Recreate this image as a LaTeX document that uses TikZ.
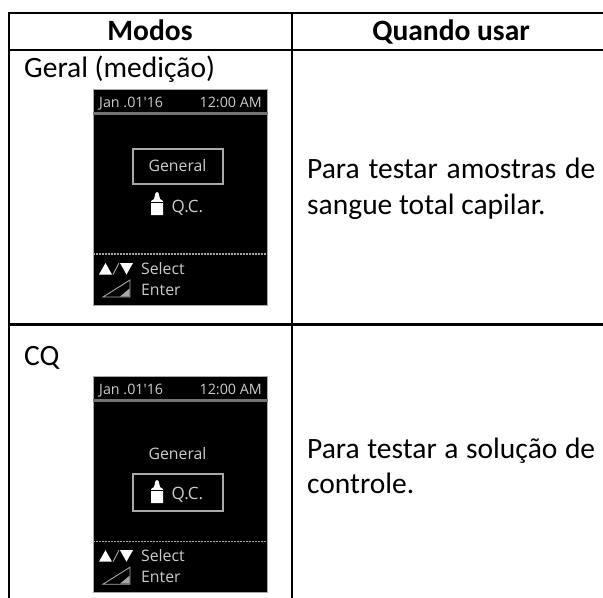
\documentclass[tikz,border=0pt]{standalone}
\usepackage{fontspec}
\setmainfont{Carlito}
\newfontfamily\scrfont{Open Sans}
\newcommand{\bodysize}{\fontsize{29.5bp}{35bp}\selectfont}
\newcommand{\scrsize}{\fontsize{15.8bp}{18bp}\selectfont\scrfont\color{scrtext}}
\newcommand{\scrdatesize}{\fontsize{14.3bp}{17bp}\selectfont\scrfont\color{scrtext}}
\newcommand{\scrqcsize}{\fontsize{17bp}{19bp}\selectfont\scrfont\color{scrtext}}
\definecolor{scrtext}{gray}{0.80}
\definecolor{scredge}{gray}{0.66}
\tikzset{
  rule/.style={draw=black,line width=2.2bp},
  celltext/.style={anchor=base west,inner sep=0pt,font=\bodysize,text=black},
  headtext/.style={anchor=base,inner sep=0pt,font=\bodysize\bfseries,text=black},
  scrtxt/.style={inner sep=0pt,font=\scrsize},
  scrdate/.style={inner sep=0pt,font=\scrdatesize},
  scrqc/.style={inner sep=0pt,font=\scrqcsize},
  scrline/.style={draw=black!55,line width=2.6bp},
  scrdots/.style={draw=scredge,line width=1.4bp,dash pattern=on 1.6bp off 1.4bp},
  scrfill/.style={fill=white,draw=none}
}
% #1 prefix, #2 y of screen top, #3 General baseline, #4 box top, #5 box bottom, #6 bottle top, #7 Q.C. baseline
\newcommand{\devicescreen}[7]{
  \fill[black,draw=scredge,line width=0.9bp] (93,#2) rectangle (267.5,#2+215.5);
  \draw[scrline] (93,#2+24) -- (267.5,#2+24);
  \node[scrdate,anchor=base west] (#1date) at (99,#2+18) {Jan .01'16};
  \node[scrdate,anchor=base east] (#1time) at (262,#2+18) {12:00 AM};
  \draw[draw=scredge,line width=1.1bp] (133,#4) rectangle (223,#5);
  \node[scrtxt,anchor=base] (#1gen) at (177.5,#3) {General};
  \fill[scrfill] (151,#6+23) -- (151,#6+9) -- (154,#6+7) -- (155.5,#6+1) -- (157,#6) -- (158.5,#6+1) -- (160,#6+7) -- (163,#6+9) -- (163,#6+23) -- cycle;
  \draw[black,line width=0.5bp] (151,#6+10) -- (163,#6+10);
  \node[scrqc,anchor=base west] (#1qc) at (171.5,#7) {Q.C.};
  \draw[scrdots] (93,#2+164.5) -- (267.5,#2+164.5);
  \fill[white] (99,#2+185) -- (112,#2+185) -- (105.5,#2+173.5) -- cycle;
  \draw[scredge,line width=0.9bp] (113,#2+185) -- (119,#2+173.5);
  \fill[white] (120,#2+173.5) -- (133,#2+173.5) -- (126.5,#2+185) -- cycle;
  \node[scrtxt,anchor=base west] (#1sel) at (141,#2+184.5) {Select};
  \draw[scredge,line width=0.9bp] (103,#2+207.5) -- (130,#2+190.5) -- (130,#2+207.5) -- cycle;
  \fill[scredge] (120,#2+207) -- (129.5,#2+207) -- (129.5,#2+199) -- cycle;
  \node[scrtxt,anchor=base west] (#1ent) at (141,#2+205.5) {Enter};
}
\begin{document}
\begin{tikzpicture}[x=1bp,y=-1bp]
  \useasboundingbox (0,0) rectangle (603,598);
  \fill[white] (0,0) rectangle (603,598);
  % table rules
  \draw[rule] (7.6,13) -- (603,13);
  \draw[rule] (8.7,49.7) -- (603,49.7);
  \draw[rule] (8.7,324.5) -- (603,324.5);
  \draw[rule] (8.7,12) -- (8.7,598);
  \draw[rule] (291.8,12) -- (291.8,598);
  % headers
  \node[headtext] (hmodos) at (150,40.5) {Modos};
  \node[headtext] (hquando) at (451,40.5) {Quando usar};
  % left cells
  \node[celltext] (geral) at (24,78) {Geral (medição)};
  \node[celltext] (cq) at (24,365) {CQ};
  % right cells
  \node[celltext] (usoa) at (307,179) {\parbox[t]{288bp}{\makebox[288bp][s]{Para testar amostras de}\\sangue total capilar.}};
  \node[celltext] (usob) at (307,458) {\parbox[t]{288bp}{\makebox[288bp][s]{Para testar a solução de}\\controle.}};
  % screens
  \devicescreen{a}{89.5}{172}{149}{184}{192}{212}
  \devicescreen{b}{376.7}{459}{474}{511}{480}{499}
\end{tikzpicture}
\end{document}
